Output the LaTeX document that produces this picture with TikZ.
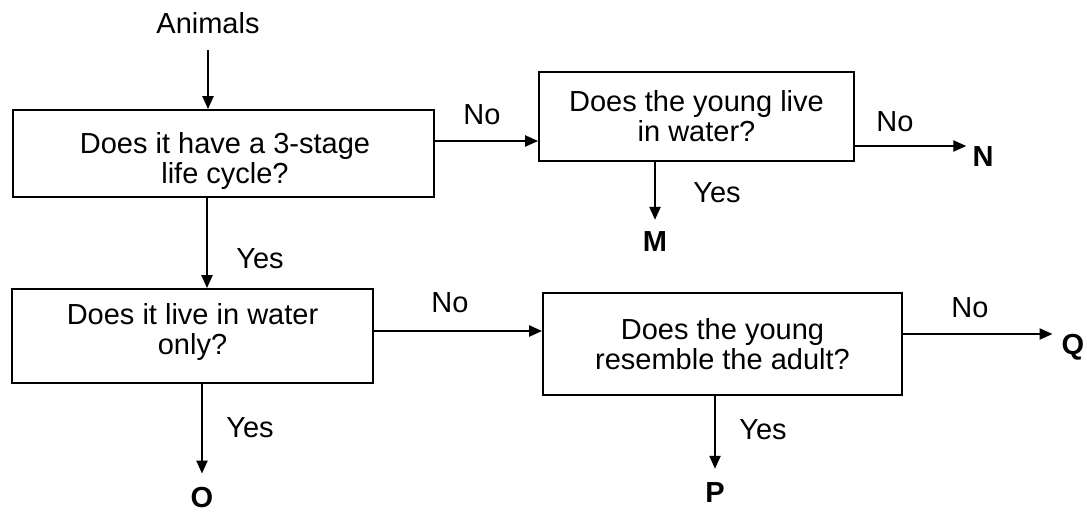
\documentclass[tikz,border=0pt]{standalone}
\usepackage{fontspec}
\setmainfont{Liberation Sans}
\usetikzlibrary{arrows.meta}
\begin{document}
\begin{tikzpicture}[x=1pt,y=-1pt,
  every node/.style={font=\fontsize{29}{30}\selectfont, inner sep=0pt},
  box/.style={draw, line width=1.8pt, align=center},
  arr/.style={line width=2.2pt, -{Triangle[length=13pt,width=11pt]}},
  res/.style={font=\fontsize{29}{30}\selectfont\bfseries}]
\useasboundingbox (0,0) rectangle (1087,515);

% nodes
\node (animals) at (208,23) {Animals};
\node[box, minimum width=421pt, minimum height=87pt] (b1) at (223.5,153.5) {};
\node[align=center] (t1) at (225,161) {Does it have a 3-stage\\life cycle?};
\node[box, minimum width=315pt, minimum height=89pt] (b2) at (696.5,116.5) {Does the young live\\in water?};
\node[box, minimum width=361pt, minimum height=94pt] (b3) at (192.5,336) {};
\node[align=center] (t3) at (192.5,332) {Does it live in water\\only?};
\node[box, minimum width=359pt, minimum height=102pt] (b4) at (722.5,344) {Does the young\\resemble the adult?};

\node[res] (N) at (983,157) {N};
\node[res] (M) at (655,242) {M};
\node[res] (O) at (202,498) {O};
\node[res] (P) at (715,493) {P};
\node[res] (Q) at (1073,347) {Q};

% labels
\node (l1) at (482,115) {No};
\node (l2) at (895,122) {No};
\node (l3) at (717,193) {Yes};
\node (l4) at (260,259) {Yes};
\node (l5) at (450,303) {No};
\node (l6) at (970,308) {No};
\node (l7) at (250,428) {Yes};
\node (l8) at (763,430) {Yes};

% guide coordinates
\coordinate (xa) at (208,50);
\coordinate (y1) at (0,141);
\coordinate (yN) at (0,146);
\coordinate (xM) at (655,0);
\coordinate (x13) at (207,0);
\coordinate (y34) at (0,331);
\coordinate (yQ) at (0,334);
\coordinate (xO) at (202,0);
\coordinate (xP) at (715,0);

% connectors
\draw[arr] (xa) -- (xa |- b1.north);
\draw[arr] (b1.east |- y1) -- (b2.west |- y1);
\draw[arr, shorten >=6pt] (b2.east |- yN) -- (N.west |- yN);
\draw[arr, shorten >=12pt] (xM |- b2.south) -- (xM |- M.north);
\draw[arr] (x13 |- b1.south) -- (x13 |- b3.north);
\draw[arr] (b3.east |- y34) -- (b4.west |- y34);
\draw[arr, shorten >=9pt] (b4.east |- yQ) -- (Q.west |- yQ);
\draw[arr, shorten >=14pt] (xO |- b3.south) -- (xO |- O.north);
\draw[arr, shorten >=14pt] (xP |- b4.south) -- (xP |- P.north);
\end{tikzpicture}
\end{document}
